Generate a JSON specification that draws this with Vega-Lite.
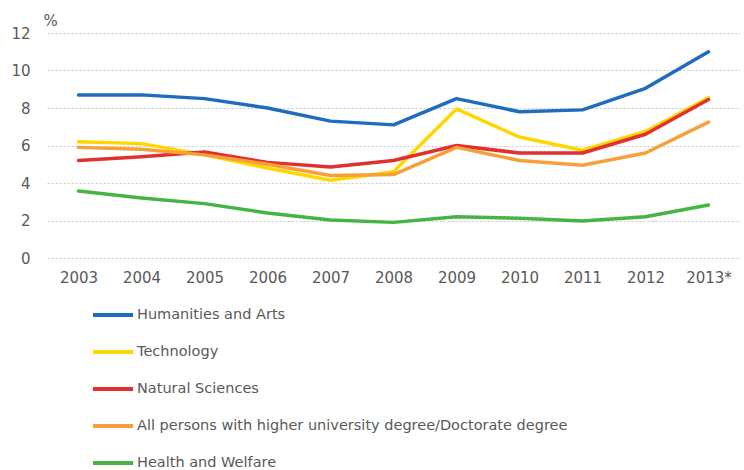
{
  "$schema": "https://vega.github.io/schema/vega-lite/v6.json",
  "autosize": "none",
  "width": 693,
  "height": 225,
  "padding": {"left": 47, "top": 33, "right": 4, "bottom": 212},
  "background": "white",
  "config": {
    "font": "DejaVu Sans",
    "view": {"stroke": null},
    "axis": {"labelColor": "#595959", "labelFontSize": 15, "titleColor": "#595959"}
  },
  "data": {
    "values": [
      {"year": "2003", "series": "Humanities and Arts", "value": 8.7},
      {"year": "2004", "series": "Humanities and Arts", "value": 8.7},
      {"year": "2005", "series": "Humanities and Arts", "value": 8.5},
      {"year": "2006", "series": "Humanities and Arts", "value": 8.0},
      {"year": "2007", "series": "Humanities and Arts", "value": 7.3},
      {"year": "2008", "series": "Humanities and Arts", "value": 7.1},
      {"year": "2009", "series": "Humanities and Arts", "value": 8.5},
      {"year": "2010", "series": "Humanities and Arts", "value": 7.8},
      {"year": "2011", "series": "Humanities and Arts", "value": 7.9},
      {"year": "2012", "series": "Humanities and Arts", "value": 9.05},
      {"year": "2013*", "series": "Humanities and Arts", "value": 11.0},
      {"year": "2003", "series": "Technology", "value": 6.2},
      {"year": "2004", "series": "Technology", "value": 6.1},
      {"year": "2005", "series": "Technology", "value": 5.5},
      {"year": "2006", "series": "Technology", "value": 4.8},
      {"year": "2007", "series": "Technology", "value": 4.15},
      {"year": "2008", "series": "Technology", "value": 4.6},
      {"year": "2009", "series": "Technology", "value": 7.95},
      {"year": "2010", "series": "Technology", "value": 6.45},
      {"year": "2011", "series": "Technology", "value": 5.75},
      {"year": "2012", "series": "Technology", "value": 6.75},
      {"year": "2013*", "series": "Technology", "value": 8.55},
      {"year": "2003", "series": "Natural Sciences", "value": 5.2},
      {"year": "2004", "series": "Natural Sciences", "value": 5.4},
      {"year": "2005", "series": "Natural Sciences", "value": 5.65},
      {"year": "2006", "series": "Natural Sciences", "value": 5.1},
      {"year": "2007", "series": "Natural Sciences", "value": 4.85},
      {"year": "2008", "series": "Natural Sciences", "value": 5.2},
      {"year": "2009", "series": "Natural Sciences", "value": 6.0},
      {"year": "2010", "series": "Natural Sciences", "value": 5.6},
      {"year": "2011", "series": "Natural Sciences", "value": 5.6},
      {"year": "2012", "series": "Natural Sciences", "value": 6.6},
      {"year": "2013*", "series": "Natural Sciences", "value": 8.45},
      {"year": "2003", "series": "All persons with higher university degree/Doctorate degree", "value": 5.9},
      {"year": "2004", "series": "All persons with higher university degree/Doctorate degree", "value": 5.8},
      {"year": "2005", "series": "All persons with higher university degree/Doctorate degree", "value": 5.5},
      {"year": "2006", "series": "All persons with higher university degree/Doctorate degree", "value": 5.0},
      {"year": "2007", "series": "All persons with higher university degree/Doctorate degree", "value": 4.4},
      {"year": "2008", "series": "All persons with higher university degree/Doctorate degree", "value": 4.45},
      {"year": "2009", "series": "All persons with higher university degree/Doctorate degree", "value": 5.9},
      {"year": "2010", "series": "All persons with higher university degree/Doctorate degree", "value": 5.2},
      {"year": "2011", "series": "All persons with higher university degree/Doctorate degree", "value": 4.95},
      {"year": "2012", "series": "All persons with higher university degree/Doctorate degree", "value": 5.6},
      {"year": "2013*", "series": "All persons with higher university degree/Doctorate degree", "value": 7.25},
      {"year": "2003", "series": "Health and Welfare", "value": 3.57},
      {"year": "2004", "series": "Health and Welfare", "value": 3.2},
      {"year": "2005", "series": "Health and Welfare", "value": 2.9},
      {"year": "2006", "series": "Health and Welfare", "value": 2.4},
      {"year": "2007", "series": "Health and Welfare", "value": 2.03},
      {"year": "2008", "series": "Health and Welfare", "value": 1.9},
      {"year": "2009", "series": "Health and Welfare", "value": 2.2},
      {"year": "2010", "series": "Health and Welfare", "value": 2.12},
      {"year": "2011", "series": "Health and Welfare", "value": 1.97},
      {"year": "2012", "series": "Health and Welfare", "value": 2.2},
      {"year": "2013*", "series": "Health and Welfare", "value": 2.83}
    ]
  },
  "mark": {"type": "line", "strokeWidth": 3.5, "interpolate": "linear", "strokeJoin": "round", "strokeCap": "round"},
  "encoding": {
    "x": {
      "field": "year", "type": "ordinal",
      "scale": {"type": "point", "padding": 0.5},
      "axis": {"title": null, "labelAngle": 0, "domain": false, "ticks": false, "labelPadding": 12, "grid": false}
    },
    "y": {
      "field": "value", "type": "quantitative",
      "scale": {"domain": [0, 12], "nice": false},
      "axis": {
        "values": [0, 2, 4, 6, 8, 10, 12],
        "title": "%", "titleAngle": 0, "titleX": -4, "titleY": -13, "titleAlign": "left", "titleBaseline": "middle",
        "titleFontSize": 15, "titleFontWeight": "normal",
        "domain": false, "ticks": false, "labelPadding": 17,
        "grid": true, "gridColor": "#c8c8c8", "gridDash": [2, 2], "gridWidth": 1
      }
    },
    "color": {
      "field": "series", "type": "nominal",
      "sort": ["Humanities and Arts", "Technology", "Natural Sciences", "All persons with higher university degree/Doctorate degree", "Health and Welfare"],
      "scale": {
        "domain": ["Humanities and Arts", "Technology", "Natural Sciences", "All persons with higher university degree/Doctorate degree", "Health and Welfare"],
        "range": ["#1f6bbf", "#ffd700", "#e03030", "#f7a03a", "#44b544"]
      },
      "legend": {
        "title": null, "orient": "none", "legendX": 44, "legendY": 260, "direction": "vertical",
        "symbolType": "stroke", "symbolSize": 1600, "symbolStrokeWidth": 4,
        "labelFont": "DejaVu Sans", "labelFontSize": 14.5, "labelColor": "#595959", "labelOffset": 2,
        "rowPadding": 7, "padding": 0, "labelLimit": 600
      }
    }
  }
}
